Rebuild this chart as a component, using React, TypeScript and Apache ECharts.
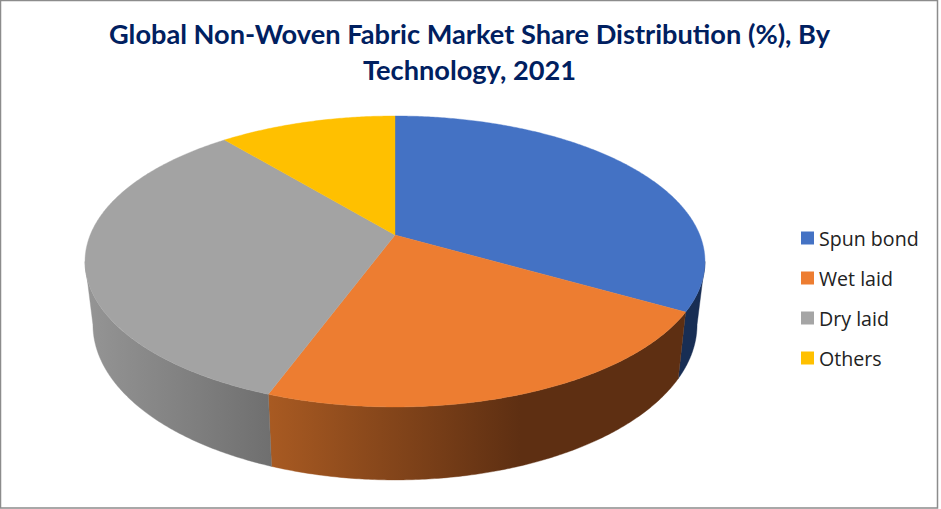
import React, { useEffect, useRef } from "react";
import * as echarts from "echarts";

const categories = ["Spun bond", "Wet laid", "Dry laid", "Others"];
const shares = [33.3, 22.3, 33.4, 11.0];
const legendColors = ["#4472C4", "#ED7D31", "#A5A5A5", "#FFC000"];
const topColors = ["#4472C4", "#ED7D31", "#A3A3A3", "#FFC000"];
const titleLines = ["Global Non-Woven Fabric Market Share Distribution (%), By", "Technology, 2021"];

const CX = 395;
const PERSPECTIVE = -0.182;
const TOP_PLANE = { apexY: 235, a: 97.9, r: 304.8 };
const BOTTOM_PLANE = { apexY: 296.4, a: 96.2, r: 297 };
const WALL_START = 100.5;
const WALL_END = 259.5;

const wallFills: any[] = [
  "#182E54",
  {
    type: "linear", x: 270, y: 0, x2: 520, y2: 0, global: true,
    colorStops: [
      { offset: 0, color: "#A85A22" },
      { offset: 1, color: "#5E2F12" },
    ],
  },
  {
    type: "linear", x: 90, y: 0, x2: 272, y2: 0, global: true,
    colorStops: [
      { offset: 0, color: "#949494" },
      { offset: 1, color: "#6F6F6F" },
    ],
  },
  "#000",
];

function project(deg: number, plane: { apexY: number; a: number; r: number }): number[] {
  const t = (deg * Math.PI) / 180;
  const u = Math.sin(t);
  const v = -Math.cos(t);
  const d = 1 + PERSPECTIVE * v;
  return [CX + (plane.r * u) / d, (plane.apexY + plane.a * v) / d];
}

function arc(from: number, to: number, plane: { apexY: number; a: number; r: number }): number[][] {
  const n = Math.max(2, Math.ceil(Math.abs(to - from) * 2));
  const out: number[][] = [];
  for (let i = 0; i <= n; i++) out.push(project(from + ((to - from) * i) / n, plane));
  return out;
}

function sliceRange(index: number): [number, number] {
  const total = shares.reduce((s, x) => s + x, 0);
  const before = shares.slice(0, index).reduce((s, x) => s + x, 0);
  return [(before / total) * 360, ((before + shares[index]) / total) * 360];
}

function renderSlice(params: any) {
  const i = params.seriesIndex;
  const [a0, a1] = sliceRange(i);
  const children: any[] = [];
  const w0 = Math.max(a0, WALL_START);
  const w1 = Math.min(a1, WALL_END);
  if (w1 > w0) {
    const pts = arc(w0, w1, TOP_PLANE).concat(arc(w1, w0, BOTTOM_PLANE));
    children.push({
      type: "polygon",
      shape: { points: pts },
      style: { fill: wallFills[i], stroke: wallFills[i], lineWidth: 0.4 },
    });
  }
  const top = [[CX, TOP_PLANE.apexY]].concat(arc(a0, a1, TOP_PLANE));
  children.push({
    type: "polygon",
    shape: { points: top },
    style: { fill: topColors[i], stroke: topColors[i], lineWidth: 0.4 },
  });
  return { type: "group", children };
}

export default function App() {
  const ref = useRef<HTMLDivElement>(null);
  useEffect(() => {
    const chart = echarts.init(ref.current as HTMLDivElement, undefined, { renderer: "svg" });
    chart.setOption({
      animation: false,
      backgroundColor: "#fff",
      title: {
        text: titleLines.join("\n"),
        left: 464.5,
        top: 10,
        textAlign: "center",
        textStyle: {
          fontFamily: "Lato",
          fontWeight: "bold",
          fontSize: 27.2,
          lineHeight: 36,
          color: "#002060",
        },
      },
      legend: {
        orient: "vertical",
        left: 801,
        top: 225,
        padding: 0,
        itemWidth: 13,
        itemHeight: 13,
        itemGap: 14,
        icon: "rect",
        data: categories,
        textStyle: { fontFamily: "Open Sans", fontSize: 19.6, lineHeight: 26, color: "#222" },
      },
      graphic: [
        {
          type: "rect",
          silent: true,
          shape: { x: 0.5, y: 0.5, width: 937, height: 507.5 },
          style: { fill: "none", stroke: "#8C8C8C", lineWidth: 1.5 },
        },
      ],
      series: categories.map((name, i) => ({
        type: "custom",
        name,
        coordinateSystem: "none",
        silent: true,
        itemStyle: { color: legendColors[i] },
        data: [shares[i]],
        renderItem: renderSlice,
      })),
    });
    return () => chart.dispose();
  }, []);
  return <div ref={ref} style={{ position: "absolute", left: 0, top: 0, width: 941, height: 509 }} />;
}
